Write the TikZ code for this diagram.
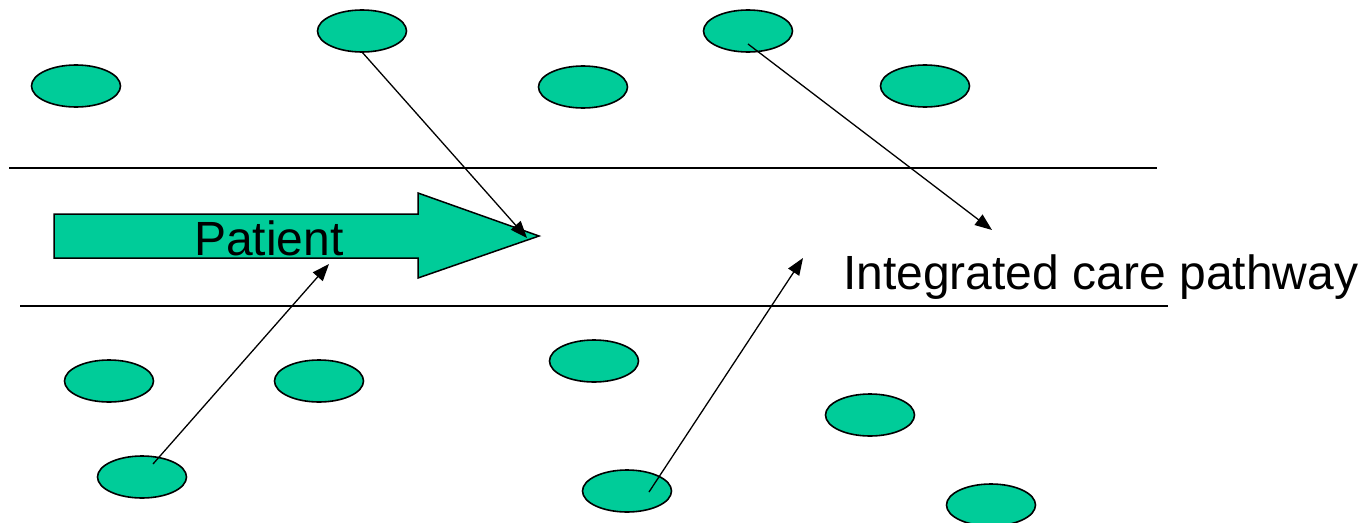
\documentclass[tikz,border=0pt]{standalone}
\usepackage{fontspec}
\setmainfont{Liberation Sans}
\usetikzlibrary{arrows.meta,shapes.geometric}
\definecolor{tealfill}{HTML}{00CC99}
\begin{document}
\begin{tikzpicture}[x=1pt,y=-1pt,
  blob/.style={ellipse,draw=black,line width=1.6pt,fill=tealfill,minimum width=89pt,minimum height=42pt,inner sep=0pt},
  conn/.style={line width=1.3pt,-{Triangle[length=17pt,width=13pt]}},
  rule/.style={line width=1.3pt},
  bigtext/.style={font=\fontsize{48}{56}\selectfont,inner sep=0pt}]
\useasboundingbox (0,0) rectangle (1364,522);
% ellipses
\node[blob] (e1) at (76,86) {};
\node[blob] (e2) at (362,31) {};
\node[blob] (e3) at (583,87) {};
\node[blob] (e4) at (748,31) {};
\node[blob] (e5) at (925,86) {};
\node[blob] (e6) at (109,381) {};
\node[blob] (e7) at (319,381) {};
\node[blob] (e8) at (594,361) {};
\node[blob] (e9) at (870,415) {};
\node[blob] (e10) at (142,477) {};
\node[blob] (e11) at (627,491) {};
\node[blob] (e12) at (991,505) {};
% horizontal lines
\coordinate (t1) at (9,168);
\coordinate (t2) at (1157,168);
\coordinate (b1) at (20,306);
\coordinate (b2) at (1168,306);
\draw[rule] (t1) -- (t2);
\draw[rule] (b1) -- (b2);
% patient arrow
\draw[line width=1.5pt,fill=tealfill] (54,214) -- (418,214) -- (418,193) -- (539,236) -- (418,278) -- (418,258) -- (54,258) -- cycle;
\node[bigtext,anchor=base] (patient) at (269,255) {Patient};
\node[bigtext,anchor=base west] (icp) at (843,289) {Integrated care pathway};
% connectors
\coordinate (s1) at (362,52);
\coordinate (h1) at (527,238);
\coordinate (s2) at (748,44);
\coordinate (h2) at (992,230);
\coordinate (s3) at (153,464);
\coordinate (h3) at (329,264);
\coordinate (s4) at (649,492);
\coordinate (h4) at (803,258);
\draw[conn] (s1) -- (h1);
\draw[conn] (s2) -- (h2);
\draw[conn] (s3) -- (h3);
\draw[conn] (s4) -- (h4);
\end{tikzpicture}
\end{document}
